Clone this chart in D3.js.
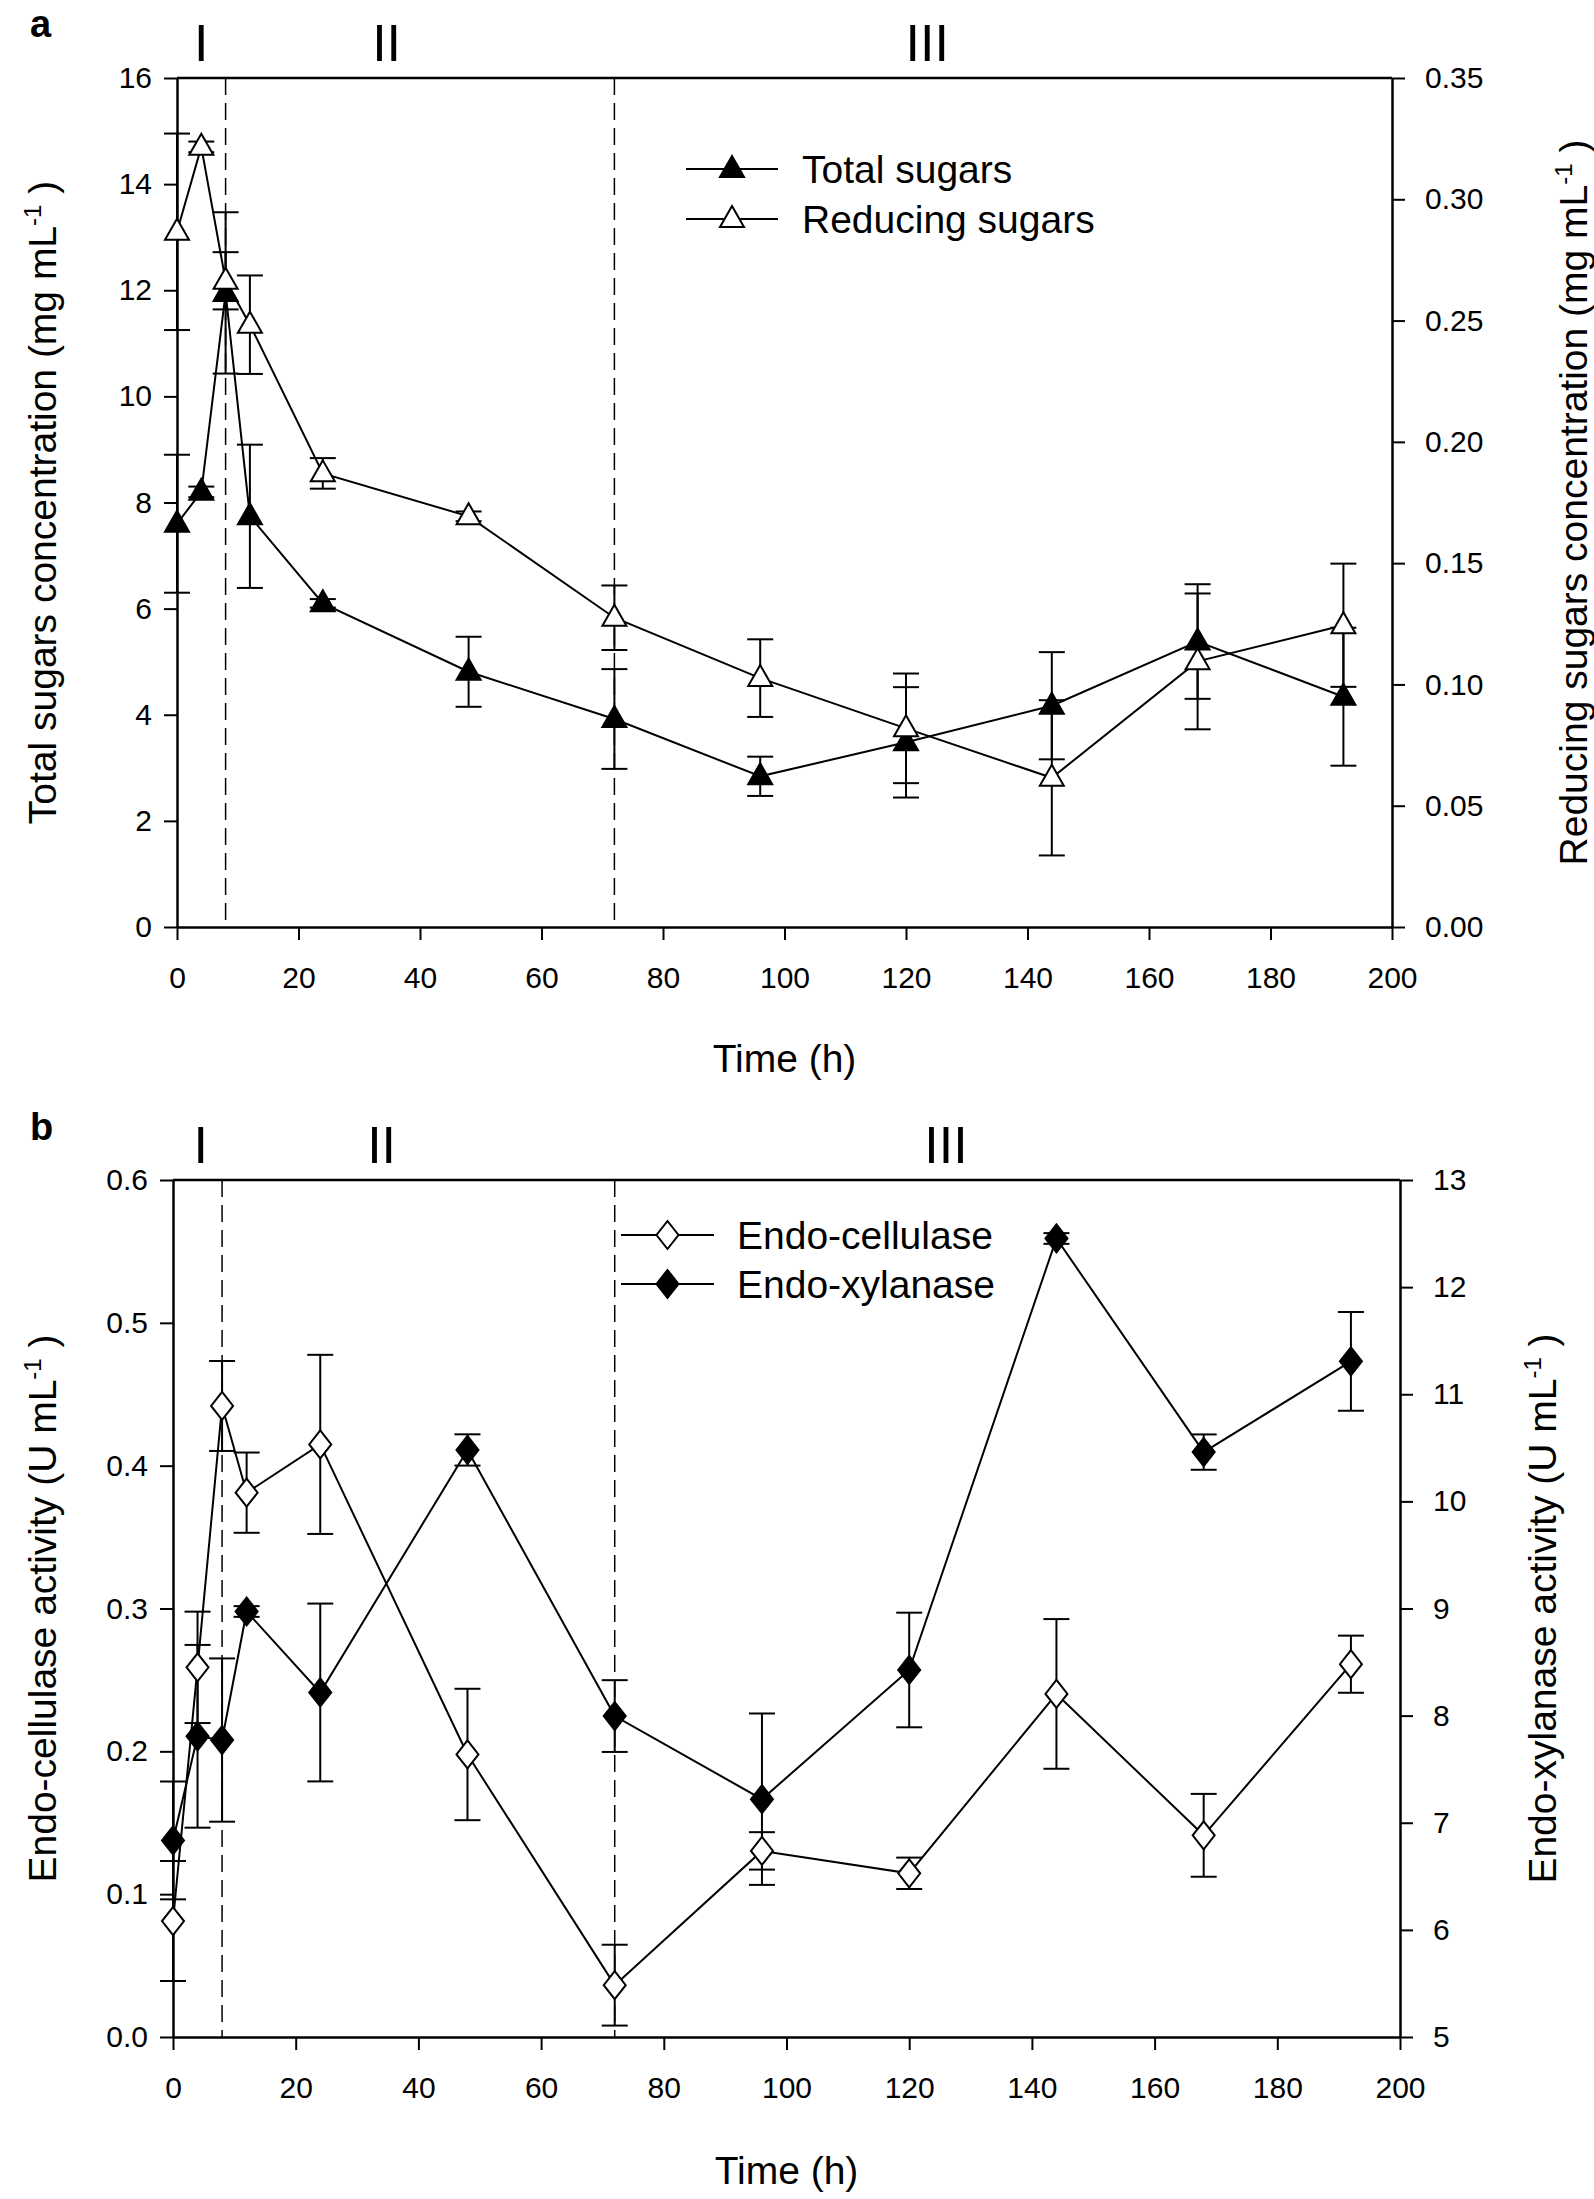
<!DOCTYPE html>
<html>
<head>
<meta charset="utf-8">
<script src="https://cdn.jsdelivr.net/npm/d3@7"></script>
<style>
  html, body { margin: 0; padding: 0; background: #fff; }
  svg text { font-family: "Liberation Sans", Arial, Helvetica, sans-serif; fill: #000; }
</style>
</head>
<body>
<svg id="chart" width="1594" height="2199"></svg>
<script>
// ---------------- DATA ----------------
const hours = [0, 4, 8, 12, 24, 48, 72, 96, 120, 144, 168, 192];

// Panel a
const totalSugars    = [7.60, 8.20, 11.95, 7.74, 6.10, 4.81, 3.92, 2.84, 3.48, 4.17, 5.38, 4.34];
const totalSugarsErr = [1.30, 0.10, 1.52, 1.35, 0.08, 0.66, 0.94, 0.37, 1.04, 1.01, 1.08, 1.30];
const reducingSugars    = [0.2866, 0.3216, 0.2664, 0.2483, 0.1870, 0.1693, 0.1275, 0.1026, 0.0819, 0.0615, 0.1095, 0.1244];
const reducingSugarsErr = [0.0405, 0.0022, 0.0118, 0.0203, 0.0063, 0.0020, 0.0133, 0.0160, 0.0226, 0.0320, 0.0280, 0.0254];

// Panel b
const endoCellulase    = [0.0812, 0.2588, 0.4418, 0.3811, 0.4149, 0.1978, 0.0363, 0.1303, 0.1146, 0.2402, 0.1412, 0.2610];
const endoCellulaseErr = [0.0420, 0.0390, 0.0315, 0.0281, 0.0627, 0.0460, 0.0283, 0.0131, 0.0110, 0.0524, 0.0290, 0.0200];
const endoXylanase    = [6.835, 7.807, 7.772, 8.972, 8.216, 10.480, 7.996, 7.220, 8.426, 12.454, 10.460, 11.307];
const endoXylanaseErr = [0.550, 0.853, 0.762, 0.050, 0.830, 0.146, 0.335, 0.800, 0.535, 0.050, 0.165, 0.461];

// Ticks
const timeTicks = [0, 20, 40, 60, 80, 100, 120, 140, 160, 180, 200];
const totalTicks = [0, 2, 4, 6, 8, 10, 12, 14, 16];
const reducingTicks = [0, 0.05, 0.10, 0.15, 0.20, 0.25, 0.30, 0.35];
const cellulaseTicks = [0, 0.1, 0.2, 0.3, 0.4, 0.5, 0.6];
const xylanaseTicks = [5, 6, 7, 8, 9, 10, 11, 12, 13];

// Phase boundaries and phase labels
const phaseBounds = [8, 72];
const phaseLabels = ["I", "II", "III"];
const phaseLabelPosA = [4, 34.5, 123.5];
const phaseLabelPosB = [4.5, 34, 126];

// ---------------- DRAWING ----------------
const svg = d3.select("#chart");
svg.append("rect").attr("width", 1594).attr("height", 2199).attr("fill", "#fff");

function trianglePath(w, h) {
  return `M0,${-h * 0.62}L${w / 2},${h * 0.38}L${-w / 2},${h * 0.38}Z`;
}
function diamondPath(w, h) {
  return `M0,${-h / 2}L${w / 2},0L0,${h / 2}L${-w / 2},0Z`;
}

function titleWithSup(g, x, y, rotate, main, sup, anchor) {
  const t = g.append("text")
    .attr("transform", `translate(${x},${y}) rotate(${rotate})`)
    .attr("text-anchor", anchor || "middle")
    .style("font-size", "39px");
  t.append("tspan").text(main);
  t.append("tspan").attr("dy", -15).style("font-size", "24px").text(sup);
  t.append("tspan").attr("dy", 15).text(" )");
  return t;
}

function drawPanel(cfg) {
  const g = svg.append("g");
  const x = d3.scaleLinear().domain([0, 200]).range([cfg.left, cfg.right]);
  const yL = d3.scaleLinear().domain(cfg.yLDomain).range([cfg.bottom, cfg.top]);
  const yR = d3.scaleLinear().domain(cfg.yRDomain).range([cfg.bottom, cfg.top]);

  // Axes
  const axX = g.append("g").attr("transform", `translate(0,${cfg.bottom})`)
    .call(d3.axisBottom(x).tickValues(timeTicks).tickSize(13).tickSizeOuter(0).tickPadding(27).tickFormat(d3.format("d")));
  const axL = g.append("g").attr("transform", `translate(${cfg.left},0)`)
    .call(d3.axisLeft(yL).tickValues(cfg.yLTicks).tickSize(13).tickSizeOuter(0).tickPadding(12).tickFormat(cfg.yLFormat));
  const axR = g.append("g").attr("transform", `translate(${cfg.right},0)`)
    .call(d3.axisRight(yR).tickValues(cfg.yRTicks).tickSize(13).tickSizeOuter(0).tickPadding(20).tickFormat(cfg.yRFormat));
  [axX, axL, axR].forEach(a => {
    a.select(".domain").attr("stroke", "#000").attr("stroke-width", 2.5);
    a.selectAll(".tick line").attr("stroke", "#000").attr("stroke-width", 2);
    a.selectAll(".tick text").style("font-size", "30px").attr("fill", "#000").attr("font-family", null);
  });
  // top border
  g.append("line").attr("x1", cfg.left).attr("x2", cfg.right)
    .attr("y1", cfg.top).attr("y2", cfg.top).attr("stroke", "#000").attr("stroke-width", 2.5);

  // phase dashed lines
  g.selectAll(".phase").data(phaseBounds).join("line")
    .attr("x1", d => x(d)).attr("x2", d => x(d))
    .attr("y1", cfg.top).attr("y2", cfg.bottom)
    .attr("stroke", "#000").attr("stroke-width", 1.5).attr("stroke-dasharray", "17,8");

  // phase labels
  g.selectAll(".plab").data(phaseLabels).join("text")
    .attr("x", (d, i) => x(cfg.phasePos[i])).attr("y", cfg.phaseY)
    .attr("text-anchor", "middle").style("font-size", "52px").text(d => d);

  // panel letter
  g.append("text").attr("x", 30).attr("y", cfg.letterY)
    .style("font-size", "38px").style("font-weight", "bold").text(cfg.letter);

  // axis titles
  g.append("text").attr("x", (cfg.left + cfg.right) / 2).attr("y", cfg.xTitleY)
    .attr("text-anchor", "middle").style("font-size", "39px").text("Time (h)");
  titleWithSup(g, cfg.lTitleX, (cfg.top + cfg.bottom) / 2, -90, cfg.lTitle, "-1");
  titleWithSup(g, cfg.rTitleX, (cfg.top + cfg.bottom) / 2, -90, cfg.rTitle, "-1");

  // series
  const series = cfg.series.map(s => ({
    ...s, y: s.axis === "L" ? yL : yR,
    pts: hours.map((h, i) => ({ h, v: s.values[i], e: s.errors[i] }))
  }));
  const line = (ys) => d3.line().x(d => x(d.h)).y(d => ys(d.v));
  series.forEach(s => {
    g.append("path").datum(s.pts).attr("d", line(s.y))
      .attr("fill", "none").attr("stroke", "#000").attr("stroke-width", 2);
  });
  series.forEach(s => {
    const eb = g.append("g");
    s.pts.forEach(p => {
      const y1 = s.y(p.v + p.e), y2 = s.y(p.v - p.e), cx = x(p.h);
      eb.append("line").attr("x1", cx).attr("x2", cx).attr("y1", y1).attr("y2", y2)
        .attr("stroke", "#000").attr("stroke-width", 2);
      [y1, y2].forEach(yy => eb.append("line").attr("x1", cx - 13).attr("x2", cx + 13)
        .attr("y1", yy).attr("y2", yy).attr("stroke", "#000").attr("stroke-width", 2));
    });
  });
  series.forEach(s => {
    g.selectAll(null).data(s.pts).join("path")
      .attr("transform", d => `translate(${x(d.h)},${s.y(d.v)})`)
      .attr("d", s.shape)
      .attr("fill", s.fill).attr("stroke", "#000").attr("stroke-width", 2);
  });

  // legend
  series.forEach((s, i) => {
    const ly = cfg.legY[i];
    g.append("line").attr("x1", cfg.legX0).attr("x2", cfg.legX1).attr("y1", ly).attr("y2", ly)
      .attr("stroke", "#000").attr("stroke-width", 2);
    g.append("path").attr("transform", `translate(${(cfg.legX0 + cfg.legX1) / 2},${ly})`)
      .attr("d", s.shape).attr("fill", s.fill).attr("stroke", "#000").attr("stroke-width", 2);
    g.append("text").attr("x", cfg.legTextX).attr("y", ly + 14)
      .style("font-size", "39px").text(s.name);
  });
}

const tri = trianglePath(24, 21);
const dia = diamondPath(22, 28);

drawPanel({
  left: 177, right: 1392, top: 78, bottom: 927,
  yLDomain: [0, 16], yRDomain: [0, 0.35],
  yLTicks: totalTicks, yRTicks: reducingTicks,
  yLFormat: d3.format("d"), yRFormat: d3.format(".2f"),
  phasePos: phaseLabelPosA, phaseY: 61,
  letter: "a", letterY: 37,
  xTitleY: 1072, lTitleX: 56, rTitleX: 1587,
  lTitle: "Total sugars concentration (mg mL",
  rTitle: "Reducing sugars concentration (mg mL",
  legX0: 686, legX1: 778, legTextX: 802, legY: [169, 219],
  series: [
    { name: "Total sugars", values: totalSugars, errors: totalSugarsErr, axis: "L", shape: tri, fill: "#000" },
    { name: "Reducing sugars", values: reducingSugars, errors: reducingSugarsErr, axis: "R", shape: tri, fill: "#fff" }
  ]
});

drawPanel({
  left: 173, right: 1400, top: 1180, bottom: 2037,
  yLDomain: [0, 0.6], yRDomain: [5, 13],
  yLTicks: cellulaseTicks, yRTicks: xylanaseTicks,
  yLFormat: d3.format(".1f"), yRFormat: d3.format("d"),
  phasePos: phaseLabelPosB, phaseY: 1163,
  letter: "b", letterY: 1140,
  xTitleY: 2184, lTitleX: 56, rTitleX: 1556,
  lTitle: "Endo-cellulase activity (U mL",
  rTitle: "Endo-xylanase activity (U mL",
  legX0: 621, legX1: 714, legTextX: 737, legY: [1235, 1284],
  series: [
    { name: "Endo-cellulase", values: endoCellulase, errors: endoCellulaseErr, axis: "L", shape: dia, fill: "#fff" },
    { name: "Endo-xylanase", values: endoXylanase, errors: endoXylanaseErr, axis: "R", shape: dia, fill: "#000" }
  ]
});
</script>
</body>
</html>
